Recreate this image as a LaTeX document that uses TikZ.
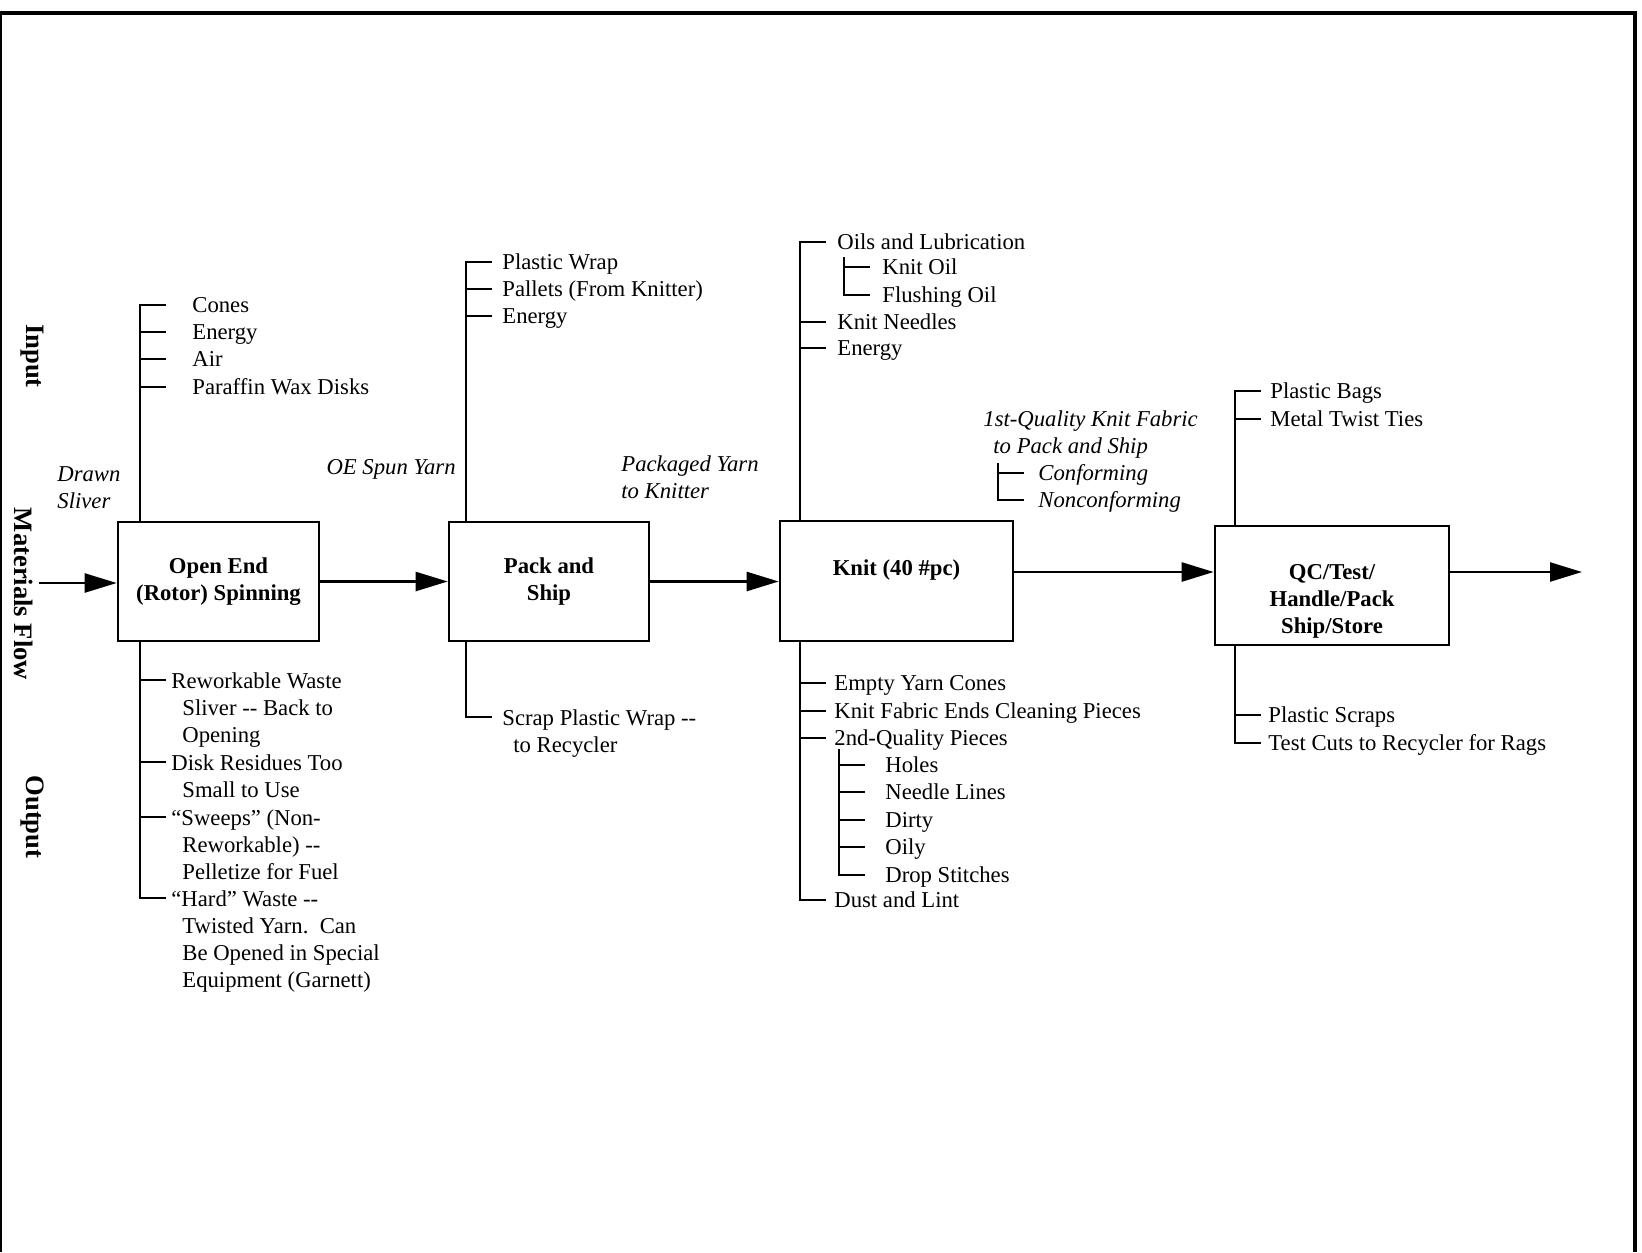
\documentclass[tikz,border=0pt]{standalone}
\usepackage{fontspec}
\setmainfont{Liberation Serif}
\usetikzlibrary{arrows.meta}

\newcommand\dashes{-\kern0pt-}

\tikzset{
  box/.style={draw, line width=1.3pt, inner sep=0pt, align=center, font=\bfseries},
  item/.style={anchor=north west, inner sep=0pt, align=left, execute at begin node=\strut},
  note/.style={item, font=\itshape},
  side/.style={rotate=-90, inner sep=0pt, font=\fontsize{13.3}{16}\selectfont\bfseries},
  wire/.style={line width=1.2pt},
  flow/.style={wire, -{Triangle[length=16pt, width=9.5pt]}}
}

\begin{document}
\fontsize{11.35}{13.6}\selectfont
\begin{tikzpicture}[x=0.5pt, y=-0.5pt]
\useasboundingbox (0,0) rectangle (1642,1252);
% frame
\draw[line width=2pt] (0,1252) -- (0,13) -- (1635,13) -- (1635,1252);

% side labels
\node[side] (input) at (32,356) {Input};
\node[side] (matflow) at (23.5,594) {Materials Flow};
\node[side] (output) at (32,817) {Output};

% process boxes
\node[box, minimum width=100.5pt, minimum height=59.5pt] (spin) at (218.5,581.5) {Open End\\(Rotor) Spinning};
\node[box, minimum width=100pt, minimum height=59.5pt] (pack) at (549,581.5) {Pack and\\Ship};
\node[box, minimum width=116.5pt, minimum height=60pt] (knit) at (896.5,581) {Knit (40 \#pc)\\[-4pt]\strut};
\node[box, minimum width=117pt, minimum height=59.5pt] (qc) at (1332,585.5) {\strut\\QC/Test/\\Handle/Pack\\Ship/Store};

% spinning
\node[item] (cones) at (192,293) {Cones};
\node[item] (energyA) at (192,320) {Energy};
\node[item] (air) at (192,347) {Air};
\node[item] (wax) at (192,375) {Paraffin Wax Disks};
\node[note] (drawn) at (57,466) {Drawn\\Sliver};
\node[item] (rework) at (171,672) {Reworkable Waste\\\hspace*{5.5pt}Sliver \dashes{} Back to\\\hspace*{5.5pt}Opening};
\node[item] (residue) at (171,754) {Disk Residues Too\\\hspace*{5.5pt}Small to Use};
\node[item] (sweeps) at (171,809) {“Sweeps” (Non-\\\hspace*{5.5pt}Reworkable) \dashes\\\hspace*{5.5pt}Pelletize for Fuel};
\node[item] (hardwaste) at (171,890) {“Hard” Waste \dashes\\\hspace*{5.5pt}Twisted Yarn.\ \ Can\\\hspace*{5.5pt}Be Opened in Special\\\hspace*{5.5pt}Equipment (Garnett)};

% pack and ship
\node[item] (wrap) at (502,250) {Plastic Wrap};
\node[item] (pallets) at (502,277) {Pallets (From Knitter)};
\node[item] (energyB) at (502,304) {Energy};
\node[note, anchor=north east] (oeyarn) at (456,455) {OE Spun Yarn};
\node[note] (pkgyarn) at (621,455) {Packaged Yarn\\to Knitter};
\node[item] (scrapwrap) at (502,709) {Scrap Plastic Wrap \dashes\\\hspace*{5.5pt}to Recycler};

% knit
\node[item] (oils) at (837,230) {Oils and Lubrication};
\node[item] (knitoil) at (882,255) {Knit Oil};
\node[item] (flushoil) at (882,283) {Flushing Oil};
\node[item] (needles) at (837,310) {Knit Needles};
\node[item] (energyC) at (837,336) {Energy};
\node[note] (firstq) at (983,410) {1st-Quality Knit Fabric\\\hspace*{5pt}to Pack and Ship};
\node[note] (conform) at (1038,461) {Conforming};
\node[note] (nonconform) at (1038,488) {Nonconforming};
\node[item] (emptycones) at (834,671) {Empty Yarn Cones};
\node[item] (fabricends) at (834,699) {Knit Fabric Ends Cleaning Pieces};
\node[item] (secondq) at (834,726) {2nd-Quality Pieces};
\node[item] (holes) at (885,753) {Holes};
\node[item] (needlelines) at (885,780) {Needle Lines};
\node[item] (dirty) at (885,808) {Dirty};
\node[item] (oily) at (885,835) {Oily};
\node[item] (dropst) at (885,863) {Drop Stitches};
\node[item] (dust) at (834,888) {Dust and Lint};

% qc
\node[item] (bags) at (1270,379) {Plastic Bags};
\node[item] (ties) at (1270,407) {Metal Twist Ties};
\node[item] (scraps) at (1268,703) {Plastic Scraps};
\node[item] (testcuts) at (1268,731) {Test Cuts to Recycler for Rags};

% brackets
\coordinate (s1in) at (140,305);
\draw[wire] (spin.north -| s1in) -- (s1in) -- ++(26,0)
  (s1in |- energyA.north west) ++(0,12) -- ++(26,0)
  (s1in |- air.north west) ++(0,12) -- ++(26,0)
  (s1in |- wax.north west) ++(0,12) -- ++(26,0);
\coordinate (s1out) at (140,898);
\draw[wire] (spin.south -| s1out) -- (s1out) -- ++(26,0)
  (s1out |- rework.north west) ++(0,8) -- ++(26,0)
  (s1out |- residue.north west) ++(0,8) -- ++(26,0)
  (s1out |- sweeps.north west) ++(0,8) -- ++(26,0);

\coordinate (s2in) at (466,262);
\draw[wire] (pack.north -| s2in) -- (s2in) -- ++(26,0)
  (s2in |- pallets.north west) ++(0,12) -- ++(26,0)
  (s2in |- energyB.north west) ++(0,12) -- ++(26,0);
\coordinate (s2out) at (466,717);
\draw[wire] (pack.south -| s2out) -- (s2out) -- ++(26,0);

\coordinate (s3in) at (800,242);
\draw[wire] (knit.north -| s3in) -- (s3in) -- ++(26,0)
  (s3in |- needles.north west) ++(0,12) -- ++(26,0)
  (s3in |- energyC.north west) ++(0,12) -- ++(26,0);
\coordinate (s3oil) at (844,257);
\draw[wire] (s3oil) -- (s3oil |- flushoil.north west) -- ++(0,12) -- ++(26,0)
  (s3oil |- knitoil.north west) ++(0,12) -- ++(26,0);
\coordinate (sconf) at (998,463);
\draw[wire] (sconf) -- (sconf |- nonconform.north west) -- ++(0,12) -- ++(26,0)
  (sconf |- conform.north west) ++(0,12) -- ++(26,0);
\coordinate (s3out) at (800,900);
\draw[wire] (knit.south -| s3out) -- (s3out) -- ++(26,0)
  (s3out |- emptycones.north west) ++(0,12) -- ++(26,0)
  (s3out |- fabricends.north west) ++(0,12) -- ++(26,0)
  (s3out |- secondq.north west) ++(0,12) -- ++(26,0);
\coordinate (s3sub) at (839,749);
\draw[wire] (s3sub) -- (s3sub |- dropst.north west) -- ++(0,12) -- ++(26,0)
  (s3sub |- holes.north west) ++(0,12) -- ++(26,0)
  (s3sub |- needlelines.north west) ++(0,12) -- ++(26,0)
  (s3sub |- dirty.north west) ++(0,12) -- ++(26,0)
  (s3sub |- oily.north west) ++(0,12) -- ++(26,0);

\coordinate (s4in) at (1235,391);
\draw[wire] (qc.north -| s4in) -- (s4in) -- ++(26,0)
  (s4in |- ties.north west) ++(0,12) -- ++(26,0);
\coordinate (s4out) at (1235,743);
\draw[wire] (qc.south -| s4out) -- (s4out) -- ++(26,0)
  (s4out |- scraps.north west) ++(0,12) -- ++(26,0);

% materials flow
\coordinate (start) at (39,583);
\coordinate (finish) at (1582,572);
\draw[flow] (start) -- (start -| spin.west);
\draw[flow] (spin.east) -- (pack.west);
\draw[flow] (pack.east) -- (pack.east -| knit.west);
\draw[flow] (knit.east |- finish) -- (finish -| qc.west);
\draw[flow] (qc.east |- finish) -- (finish);
\end{tikzpicture}
\end{document}
